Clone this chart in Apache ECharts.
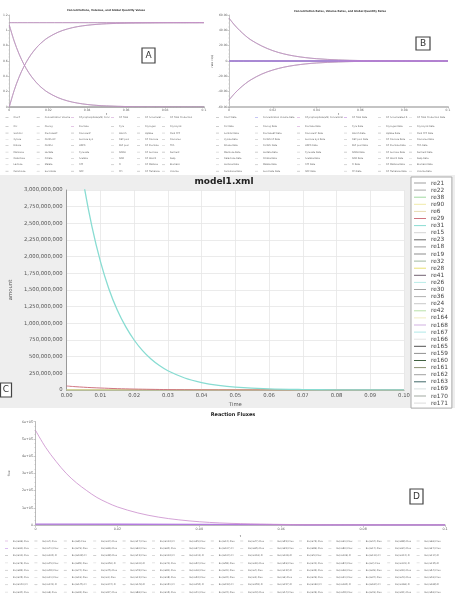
<!DOCTYPE html>
<html><head><meta charset="utf-8">
<script src="https://cdn.jsdelivr.net/npm/echarts@6/dist/echarts.min.js"></script>
<style>html,body{margin:0;padding:0;background:#fff}#c{width:455px;height:596px}</style>
</head><body><div id="c"></div>
<script>
// ================= DATA =================
// Panel A: concentrations
const timeA = [0,0.0025,0.005,0.0075,0.01,0.0125,0.015,0.0175,0.02,0.025,0.03,0.035,0.04,0.045,0.05,0.06,0.07,0.08,0.1];
const concFalling = [1.07,0.861,0.693,0.557,0.448,0.361,0.290,0.233,0.188,0.122,0.079,0.051,0.033,0.021,0.014,0.006,0.002,0.001,0.000];
const concRising  = [0,0.215,0.388,0.527,0.639,0.729,0.802,0.860,0.907,0.975,1.019,1.048,1.066,1.078,1.086,1.094,1.097,1.099,1.1];
const plateauTime = [0, 0.1];
const plateauVals = [1.1, 1.1];
const zeroTime = [0, 0.1];
const zeroVals = [0, 0];
// Panel B: rates
const timeB = [0,0.0025,0.005,0.0075,0.01,0.015,0.02,0.025,0.03,0.035,0.04,0.05,0.06,0.07,0.08,0.1];
const rateUp   = [56,47,39.5,33,27.5,19.5,13.5,9.3,6.4,4.4,3.0,1.4,0.6,0.3,0.1,0];
const rateDown = [-51,-42.5,-35.5,-29.5,-24.5,-17,-11.8,-8.1,-5.6,-3.8,-2.6,-1.2,-0.5,-0.2,-0.1,0];
// Panel C: model1.xml amounts
const timeC = [0,0.0025,0.005,0.0075,0.01,0.0125,0.015,0.0175,0.02,0.0225,0.025,0.0275,0.03,0.035,0.04,0.045,0.05,0.06,0.07,0.08,0.09,0.1];
const re31Vals = [5.0e9,3.94e9,3.11e9,2.45e9,1.93e9,1.52e9,1.20e9,0.95e9,0.75e9,0.59e9,0.465e9,0.367e9,0.289e9,0.180e9,0.112e9,0.069e9,0.043e9,0.017e9,0.0065e9,0.0025e9,0.001e9,0.0004e9];
const re29Vals = [60e6,50e6,42e6,35e6,30e6,25e6,20e6,17e6,14e6,12e6,10e6,8e6,6e6,4e6,3e6,2e6,1.5e6,0.8e6,0.4e6,0.2e6,0.1e6,0];
// Panel D: reaction fluxes
const timeD = [0,0.0025,0.005,0.0075,0.01,0.0125,0.015,0.0175,0.02,0.025,0.03,0.035,0.04,0.045,0.05,0.06,0.07,0.08,0.09,0.1];
const fluxMain = [5.5e5,4.5e5,3.7e5,3.0e5,2.45e5,2.0e5,1.6e5,1.3e5,1.05e5,0.7e5,0.46e5,0.3e5,0.19e5,0.12e5,0.08e5,0.035e5,0.015e5,0.006e5,0.003e5,0.001e5];
const fluxLowTime = [0,0.02,0.04,0.06,0.066,0.1];
const fluxLowVals = [5000,4500,3500,2000,0,0];

// Labels
const titleA = 'Concentrations, Volumes, and Global Quantity Values';
const titleB = 'Concentration Rates, Volume Rates, and Global Quantity Rates';
const namesA = [
 'GlucP','Glc','Sorbitol','Xylose','Ribose','Mannose','Galactose','Lactose','Cellobiose',
 'Concentration Volume','Glucog','Fructose6P','GlcNAc1P','GlcNAc','Lactate','Citrate','Malate','Succinate',
 'GPyrophosphate(uM) Concentration','Fructose','Glucose1P','Sucrose Syn','UDPG','Pyruvate','Acetate','ATP','ADP',
 'GP Total','Pyru','Starch','G6P pool','F6P pool','NADH','NAD','Pi','PPi',
 'GP Accumulated','Glycogen','Uptake','GP Glucose','GP Fructose','GP Sucrose','GP Starch','GP Maltose','GP Trehalose',
 'GP Total Production','Glycolysis','Oxid PPP','Gluconeo','TCA','Ferment','Resp','Biomass','Volume'
];
const namesB = namesA.map(n => n + ' Rate');
const namesC = ['re21','re22','re38','re90','re6','re29','re31','re15','re23','re18','re19','re32','re28','re41','re26','re30','re36','re24','re42','re164','re168','re167','re166','re165','re159','re160','re161','re162','re163','re169','re170','re171'];
const colorsC = ['#9e9e9e','#a8a8a8','#9fd8a0','#f0eaa8','#e8dcb0','#e08ab8','#8fe0d8','#d4d4d4','#666666','#9a9a9a','#8c8c8c','#a0b8a0','#e8e070','#706070','#b8ece8','#a0a0a0','#b0b0b0','#c8c8c8','#b8e0a8','#f0ecc0','#d0b0e0','#b0e8e8','#e4e4e4','#505050','#909090','#406040','#8a9070','#a0a0a0','#406868','#d8e0e0','#a0a8a0','#dcdcdc'];
const fluxIdsRowMajor = [
 99,7,8,14,27,113,35,12,47,55,73,91,44,88,96,
 90,71,79,66,60,62,67,107,65,95,89,80,17,94,97,
 10,102,108,38,43,103,111,104,116,106,5,109,110,112,114,
 76,45,85,150,100,70,52,58,30,59,41,84,2,131,135,
 83,48,72,75,78,81,16,20,4,132,33,36,39,50,54,
 25,11,19,1,13,18,53,32,3,9,29,31,37,40,46,
 140,141,145,147,149,151,152,153,155,157,160,162,164,166,168,
 34,6,93,57,86,15,21,22,23,24,26,28,49,51,56
];

// ================= BUILD =================
const FONT = 'DejaVu Sans';
const zip = (ts, vs) => ts.map((t, i) => [t, vs[i]]);
const series = [];
const legends = [];
const grayPal = ['#b4b4b4','#c8c8c8','#9c9c9c','#d2d2d2','#a8a8a8','#bcbcbc'];

function line(name, grid, data, color, width, z, smooth) {
  return {type:'line', name, xAxisIndex:grid, yAxisIndex:grid, data, symbol:'none', smooth: smooth ? 0.35 : false,
    lineStyle:{color, width}, itemStyle:{color}, z: z || 2, silent:true, emphasis:{disabled:true}};
}

// A
const roleA = {0:['fall','#9a9a9a'],1:['rise','#9a9a9a'],9:['plat','#a0a0a0'],18:['fall','#c98ccc'],19:['rise','#c98ccc'],27:['plat','#c98ccc']};
namesA.forEach((n, i) => {
  const r = roleA[i];
  if (!r) { series.push(line(n, 0, zip(zeroTime, zeroVals), grayPal[i % grayPal.length], 0.6, 2)); return; }
  const d = r[0] === 'fall' ? zip(timeA, concFalling) : r[0] === 'rise' ? zip(timeA, concRising) : zip(plateauTime, plateauVals);
  series.push(line(n, 0, d, r[1], 0.7, 3, true));
});
// B
const roleB = {0:['up','#9a9a9a'],1:['down','#9a9a9a'],9:['mid','#8c8ce8'],18:['up','#c98ccc'],19:['down','#c98ccc'],27:['mid','#b070d8']};
namesB.forEach((n, i) => {
  const r = roleB[i];
  if (!r) { series.push(line(n, 1, zip(zeroTime, zeroVals), grayPal[i % grayPal.length], 0.6, 2)); return; }
  const d = r[0] === 'up' ? zip(timeB, rateUp) : r[0] === 'down' ? zip(timeB, rateDown) : zip(zeroTime, zeroVals);
  series.push(line(n, 1, d, r[1], r[0]==='mid'?1:0.7, 3, true));
});
// C
namesC.forEach((n, i) => {
  if (n === 're31') series.push(line(n, 2, zip(timeC, re31Vals), '#88dcd2', 1.3, 5, true));
  else if (n === 're29') series.push(line(n, 2, zip(timeC, re29Vals), '#cf7480', 1, 4, true));
  else series.push(line(n, 2, zip(zeroTime, zeroVals), colorsC[i], 1, n === 're28' ? 3 : 2));
});
// D
const namesD = [];
for (let c = 0; c < 15; c++) for (let r = 0; r < 8; r++) namesD.push('Ex(re' + fluxIdsRowMajor[r*15 + c] + ').Flux');
namesD.forEach((n, i) => {
  if (i === 0) series.push(line(n, 3, zip(timeD, fluxMain), '#c98ccc', 0.8, 5, true));
  else if (i === 1) series.push(line(n, 3, zip(fluxLowTime, fluxLowVals), '#b47ae0', 1.4, 4, false));
  else series.push(line(n, 3, zip(zeroTime, zeroVals), grayPal[i % grayPal.length], 0.6, 2));
});

// Legends
function smallLegend(data, left, top, gap, lh, fs, tw) {
  return {data, orient:'vertical', left, top, padding:0, icon:'rect', itemWidth:3, itemHeight:0.5, itemGap:gap, selectedMode:false,
    textStyle:{fontSize:fs, lineHeight:lh, fontFamily:FONT, color:'#666', width:tw, overflow:'truncate', ellipsis:''}};
}
const colLeftA = [5.5, 36.7, 71, 111, 137, 162];
const colLeftB = [216, 255, 297, 344, 378, 409];
const colW = [24, 27, 33, 19, 18, 34];
const colWB = [31, 34, 39, 26, 23, 34];
for (let c = 0; c < 6; c++) {
  const a = namesA.slice(c*9, c*9+9), b = namesB.slice(c*9, c*9+9);
  legends.push(smallLegend(a.slice(0,1), colLeftA[c], 115.8, 3.35, 3, 2.3, colW[c]));
  legends.push(smallLegend(a.slice(1), colLeftA[c], 125.2, 3.35, 3, 2.3, colW[c]));
  legends.push(smallLegend(b.slice(0,1), colLeftB[c], 115.8, 3.35, 3, 2.3, colWB[c]));
  legends.push(smallLegend(b.slice(1), colLeftB[c], 125.2, 3.35, 3, 2.3, colWB[c]));
}
for (let c = 0; c < 15; c++) {
  legends.push(smallLegend(namesD.slice(c*8, c*8+8), 5 + 29.4*c, 539, 3.3, 4, 2.4, 18));
}
legends.push({data:namesC, orient:'vertical', left:411, top:177, padding:[3,4,2,3], icon:'rect', itemWidth:12, itemHeight:1, itemGap:1.1,
  backgroundColor:'#fff', borderColor:'#aaa', borderWidth:1, selectedMode:false,
  textStyle:{fontSize:5.8, lineHeight:6, fontFamily:FONT, color:'#444'}});

const smallAxisLabel = {fontSize:3, color:'#666', fontFamily:FONT};
const option = {
  animation:false,
  textStyle:{fontFamily:FONT},
  title:[
    {text:titleA, left:106, top:9, textAlign:'center', padding:0, textStyle:{fontSize:2.6, fontWeight:'bold', color:'#333', fontFamily:FONT}},
    {text:titleB, left:340, top:9.5, textAlign:'center', padding:0, textStyle:{fontSize:2.6, fontWeight:'bold', color:'#333', fontFamily:FONT}},
    {text:'model1.xml', left:224, top:177.5, textAlign:'center', padding:0, textStyle:{fontSize:9, fontWeight:'bold', color:'#222', fontFamily:FONT}},
    {text:'Reaction Fluxes', left:233, top:412.5, textAlign:'center', padding:0, textStyle:{fontSize:5, fontWeight:'bold', color:'#222', fontFamily:FONT}}
  ],
  grid:[
    {left:7, top:15, width:197, height:92},
    {left:229, top:15, width:219, height:92},
    {left:58.7, top:190, width:345.3, height:200, show:true, backgroundColor:'#fff', borderWidth:0},
    {left:21, top:421.7, width:424, height:103.3}
  ],
  xAxis:[
    {gridIndex:0, type:'value', min:0, max:0.1, interval:0.02, axisLine:{onZero:false, lineStyle:{color:'#c4c4c4', width:2}},
     axisTick:{length:1.5, lineStyle:{color:'#999', width:0.5}}, axisLabel:Object.assign({margin:2}, smallAxisLabel), splitLine:{show:false},
     name:'t', nameLocation:'middle', nameGap:6, nameTextStyle:{fontSize:2.8, color:'#444'}},
    {gridIndex:1, type:'value', min:0, max:0.1, interval:0.02, axisLine:{onZero:false, lineStyle:{color:'#c4c4c4', width:2}},
     axisTick:{length:1.5, lineStyle:{color:'#999', width:0.5}}, axisLabel:Object.assign({margin:2}, smallAxisLabel), splitLine:{show:false},
     name:'t', nameLocation:'middle', nameGap:6, nameTextStyle:{fontSize:2.8, color:'#444'}},
    {gridIndex:2, type:'value', min:0, max:0.1, interval:0.01, axisLine:{onZero:false, lineStyle:{color:'#999', width:1}}, axisTick:{show:false},
     axisLabel:{fontSize:5.3, color:'#555', margin:3, fontFamily:FONT, formatter:v => v.toFixed(2)},
     splitLine:{lineStyle:{color:'#e6e6e6', width:0.8}}, name:'Time', nameLocation:'middle', nameGap:12, nameTextStyle:{fontSize:5.3, color:'#555'}},
    {gridIndex:3, type:'value', min:0, max:0.1, interval:0.02, axisLine:{onZero:false, lineStyle:{color:'#bbb', width:1.5}},
     axisTick:{length:2, lineStyle:{color:'#999', width:0.5}}, minorTick:{show:true, splitNumber:4, length:1, lineStyle:{color:'#aaa', width:0.5}},
     axisLabel:{fontSize:3.3, color:'#555', margin:3, fontFamily:FONT}, splitLine:{show:false},
     name:'t', nameLocation:'middle', nameGap:10, nameTextStyle:{fontSize:3, color:'#444'}}
  ],
  yAxis:[
    {gridIndex:0, type:'value', min:0, max:1.2, interval:0.2, axisLine:{show:true, lineStyle:{color:'#c4c4c4', width:1}},
     axisTick:{show:true, length:1.5, lineStyle:{color:'#999', width:0.5}}, minorTick:{show:true, splitNumber:4, length:0.8, lineStyle:{color:'#aaa', width:0.4}},
     axisLabel:Object.assign({margin:1.5, formatter:v => String(+v.toFixed(1))}, smallAxisLabel), splitLine:{show:false}},
    {gridIndex:1, type:'value', min:-60, max:60, interval:20, axisLine:{show:true, onZero:false, lineStyle:{color:'#c4c4c4', width:1}},
     axisTick:{show:true, length:1.5, lineStyle:{color:'#999', width:0.5}}, minorTick:{show:true, splitNumber:4, length:0.8, lineStyle:{color:'#aaa', width:0.4}},
     axisLabel:Object.assign({margin:1.5, formatter:v => v === 0 ? '0' : v.toFixed(2)}, smallAxisLabel), splitLine:{show:false},
     name:'rate (1/s)', nameLocation:'middle', nameGap:11, nameTextStyle:{fontSize:2.8, color:'#444'}},
    {gridIndex:2, type:'value', min:0, max:3e9, interval:2.5e8, axisLine:{show:true, lineStyle:{color:'#999', width:1}}, axisTick:{show:false},
     axisLabel:{fontSize:5.3, color:'#555', margin:4, fontFamily:FONT, formatter:v => Math.round(v).toLocaleString('en-US')},
     splitLine:{lineStyle:{color:'#e6e6e6', width:0.8}}, name:'amount', nameLocation:'middle', nameGap:49, nameTextStyle:{fontSize:5.3, color:'#555'}},
    {gridIndex:3, type:'value', min:0, max:6e5, interval:1e5, axisLine:{show:true, lineStyle:{color:'#bbb', width:1}},
     axisTick:{show:true, length:2, lineStyle:{color:'#999', width:0.5}}, minorTick:{show:true, splitNumber:4, length:1, lineStyle:{color:'#aaa', width:0.5}},
     axisLabel:{fontSize:3.3, color:'#555', margin:2.5, fontFamily:FONT, formatter:v => v === 0 ? '0' : (v/1e5) + 'e+05'},
     splitLine:{show:false}, name:'flux', nameLocation:'middle', nameGap:16, nameTextStyle:{fontSize:3, color:'#444'}}
  ],
  legend:legends,
  graphic:[
    {type:'rect', z:-10, shape:{x:0, y:175, width:455, height:233}, style:{fill:'#eeeeee'}},
    {type:'rect', z:100, shape:{x:142, y:48, width:13, height:15}, style:{fill:'#fff', stroke:'#444', lineWidth:1.2}},
    {type:'text', z:101, x:148.5, y:55.5, style:{text:'A', fill:'#333', font:'9px DejaVu Sans', align:'center', verticalAlign:'middle'}},
    {type:'rect', z:100, shape:{x:416, y:37, width:14, height:13}, style:{fill:'#fff', stroke:'#444', lineWidth:1.2}},
    {type:'text', z:101, x:423, y:43.5, style:{text:'B', fill:'#333', font:'9px DejaVu Sans', align:'center', verticalAlign:'middle'}},
    {type:'rect', z:100, shape:{x:0.5, y:383, width:11, height:14}, style:{fill:'#fff', stroke:'#444', lineWidth:1.2}},
    {type:'text', z:101, x:6, y:390, style:{text:'C', fill:'#333', font:'9px DejaVu Sans', align:'center', verticalAlign:'middle'}},
    {type:'rect', z:100, shape:{x:410, y:489, width:13, height:15}, style:{fill:'#fff', stroke:'#444', lineWidth:1.2}},
    {type:'text', z:101, x:416.5, y:496.5, style:{text:'D', fill:'#333', font:'9px DejaVu Sans', align:'center', verticalAlign:'middle'}}
  ],
  series
};
const chart = echarts.init(document.getElementById('c'));
chart.setOption(option);
</script></body></html>
